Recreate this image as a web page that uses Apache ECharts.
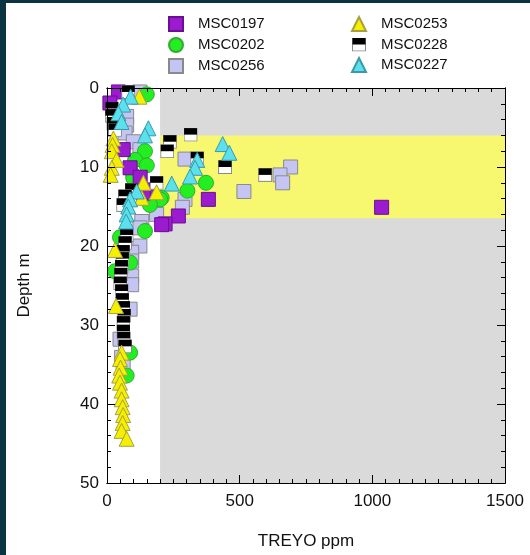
<!DOCTYPE html>
<html>
<head>
<meta charset="utf-8">
<script src="https://cdn.jsdelivr.net/npm/echarts@6/dist/echarts.min.js"></script>
<style>
  html, body { margin: 0; padding: 0; background: #0b3442; }
  #chart { position: absolute; left: 6px; top: 3px; width: 524px; height: 552px; background: #fff; }
</style>
</head>
<body>
<div id="chart"></div>
<script>
// [TREYO ppm, depth m]
const msc0197 = [[43,0.5],[11,1.9],[61,7.8],[87,10.1],[125,11.3],[150,12.9],[137,13.3],[382,14.1],[1035,15.1],[269,16.2],[219,17.2],[206,17.3]]
const msc0202 = [[150,0.8],[143,8.0],[106,9.1],[150,9.8],[99,11.0],[99,11.4],[373,12.0],[303,13.0],[206,13.9],[200,14.1],[162,14.8],[143,18.1],[49,18.9],[87,22.1],[30,23.2],[87,33.5],[74,36.4]]
const msc0256 = [[124,0.5],[74,3.6],[74,4.7],[68,5.7],[99,6.8],[124,7.8],[294,9.0],[692,10.0],[652,11.0],[662,12.0],[516,13.1],[294,14.1],[284,15.1],[187,16.0],[131,16.9],[124,17.7],[124,20.0],[93,20.8],[93,21.9],[93,23.8],[93,24.9],[87,28.0],[49,31.8],[55,34.1],[61,35.2]]
const msc0253 = [[122,1.1],[24,6.4],[21,7.2],[18,8.0],[36,9.1],[18,10.1],[14,11.0],[137,12.0],[187,13.2],[131,13.9],[30,20.5],[34,27.6],[55,33.5],[49,34.3],[51,35.4],[46,36.4],[49,37.3],[55,38.3],[55,39.4],[59,40.4],[61,41.4],[59,42.4],[55,43.4],[74,44.4]]
const msc0228 = [[80,0.5],[18,2.6],[18,3.5],[24,4.5],[30,5.3],[315,5.9],[237,6.8],[227,8.0],[340,8.9],[445,10.0],[596,11.0],[187,12.0],[93,12.9],[68,13.7],[61,14.8],[74,18.6],[68,19.6],[61,20.7],[58,21.6],[55,22.6],[52,23.6],[50,24.7],[55,25.7],[58,26.8],[62,27.8],[65,28.8],[62,29.7],[62,30.8],[63,31.7],[68,32.7]]
const msc0227 = [[89,1.1],[61,2.1],[43,3.2],[55,4.3],[156,5.1],[143,6.0],[436,7.1],[461,8.2],[340,9.1],[332,10.1],[313,11.2],[244,12.1],[112,13.1],[87,14.1],[80,15.0],[74,16.0],[72,16.9]]
const xRange = [0, 1500]
const yRange = [0, 50]
const xStep = [500, 50]   // major, minor
const yStep = [10, 2]
const grayZone = [200, 1500, 0, 50]
const yellowZone = [200, 1500, 6, 16.5]

const font = 'Liberation Sans, Arial, sans-serif'
const halfSvg = "<svg xmlns='http://www.w3.org/2000/svg' width='28' height='28'>" +
  "<rect x='1' y='1' width='26' height='26' fill='#fff' stroke='#888' stroke-width='2'/>" +
  "<rect x='1' y='1' width='26' height='13' fill='#000'/></svg>"
const halfIcon = 'image://data:image/svg+xml;charset=utf-8,' + encodeURIComponent(halfSvg)

// one axis = one tick size; major and minor ticks come from two stacked axes
function axis(range, step, position, tickLen, labels, inverse) {
  return {
    type: 'value', z: 10, min: range[0], max: range[1], interval: step, position, inverse,
    axisLine: { show: true, onZero: false, lineStyle: { color: '#000', width: 1 } },
    axisTick: { show: true, inside: true, length: tickLen, lineStyle: { color: '#000' } },
    splitLine: { show: false },
    axisLabel: { show: labels, color: '#111', fontSize: 17, fontFamily: font, formatter: v => String(v) }
  }
}

const nameStyle = { color: '#111', fontSize: 17, fontFamily: font }
const xMain = Object.assign(axis(xRange, xStep[0], 'bottom', 8, true, false), {
  name: 'TREYO ppm', nameLocation: 'middle', nameGap: 50, nameTextStyle: nameStyle
})
xMain.axisLabel.margin = 10
const yMain = Object.assign(axis(yRange, yStep[0], 'left', 8, true, true), {
  name: 'Depth m', nameLocation: 'middle', nameGap: 74, nameRotate: 90, nameTextStyle: nameStyle
})
yMain.axisLabel.margin = 8

const edge = '#8a8a8a'
function scatter(name, data, symbol, color, border, size) {
  return {
    name, type: 'scatter', data, symbol, symbolSize: size,
    itemStyle: { color, borderColor: border, borderWidth: 1, opacity: 1 },
    emphasis: { disabled: true }
  }
}

const legendText = { color: '#111', fontSize: 15, fontFamily: font, padding: [0, 0, 0, 10] }

const chart = echarts.init(document.getElementById('chart'))
chart.setOption({
  animation: false,
  backgroundColor: '#fff',
  grid: { left: 101, right: 25, top: 85, bottom: 71 },
  legend: [
    { left: 157, top: 8, orient: 'vertical', itemWidth: 14, itemHeight: 14, itemGap: 5,
      textStyle: legendText, data: ['MSC0197', 'MSC0202', 'MSC0256'] },
    { left: 340, top: 8, orient: 'vertical', itemWidth: 14, itemHeight: 14, itemGap: 5,
      textStyle: legendText, data: ['MSC0253', { name: 'MSC0228', icon: halfIcon }, 'MSC0227'] }
  ],
  xAxis: [
    xMain,
    axis(xRange, xStep[1], 'bottom', 4, false, false),
    axis(xRange, xStep[0], 'top', 8, false, false),
    axis(xRange, xStep[1], 'top', 4, false, false)
  ],
  yAxis: [
    yMain,
    axis(yRange, yStep[1], 'left', 4, false, true),
    axis(yRange, yStep[0], 'right', 8, false, true),
    axis(yRange, yStep[1], 'right', 4, false, true)
  ],
  series: [
    {
      type: 'scatter', data: [], silent: true, z: 0,
      markArea: {
        silent: true,
        data: [
          [{ coord: [grayZone[0], grayZone[2]], itemStyle: { color: '#dadada' } }, { coord: [grayZone[1], grayZone[3]] }],
          [{ coord: [yellowZone[0], yellowZone[2]], itemStyle: { color: '#f7f870' } }, { coord: [yellowZone[1], yellowZone[3]] }]
        ]
      }
    },
    scatter('MSC0256', msc0256, 'rect', '#c5c5f3', edge, 14),
    scatter('MSC0202', msc0202, 'circle', '#22ee22', '#33aa33', 15),
    scatter('MSC0197', msc0197, 'rect', '#9b1bd0', '#6a0f90', 14),
    scatter('MSC0228', msc0228, halfIcon, '#000', edge, 14),
    scatter('MSC0253', msc0253, 'triangle', '#f4f000', '#a8a040', 15),
    scatter('MSC0227', msc0227, 'triangle', '#5ce0ee', '#3a9aa8', 15)
  ]
})
</script>
</body>
</html>
